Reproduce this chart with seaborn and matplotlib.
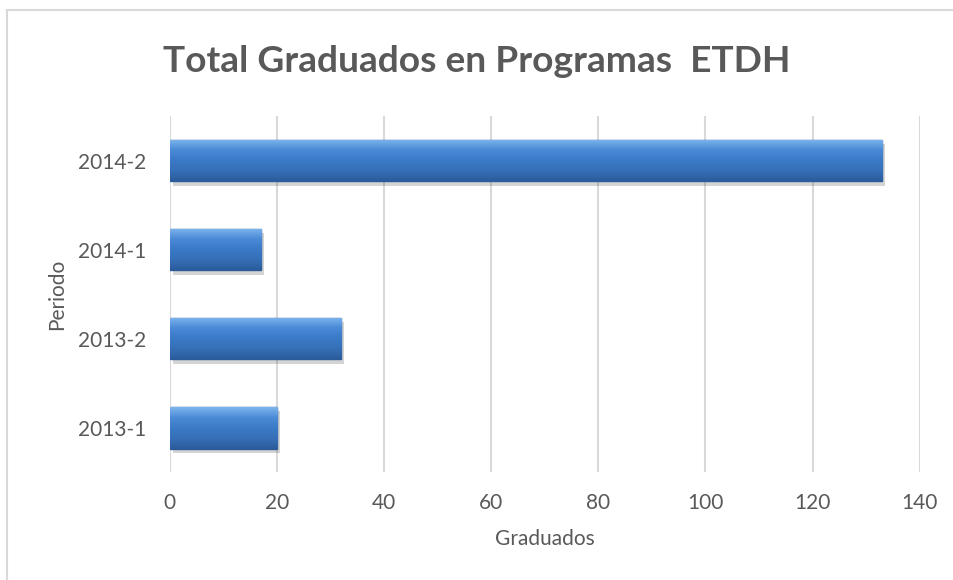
import matplotlib
matplotlib.use("Agg")
import matplotlib.pyplot as plt
import matplotlib.patheffects as pe
from matplotlib.colors import LinearSegmentedColormap
import numpy as np
import seaborn as sns
import pandas as pd

# data
periodos = ["2014-2", "2014-1", "2013-2", "2013-1"]
graduados = [133, 17, 32, 20]

df = pd.DataFrame({"Periodo": periodos, "Graduados": graduados})

sns.set_theme(style="white")
plt.rcParams["font.family"] = ["Lato", "DejaVu Sans"]

fig = plt.figure(figsize=(9.54, 5.8), dpi=100)
ax = fig.add_axes([0.178, 0.186, 0.786, 0.614])

sns.barplot(data=df, y="Periodo", x="Graduados", order=periodos, orient="h",
            color="#3B7AC6", width=0.47, saturation=1, ax=ax,
            edgecolor="#2A5A98", linewidth=1.0)

ax.set_xlim(0, 140)
ax.set_ylim(3.5, -0.5)

# bevel-like vertical gradient + soft shadow on each bar
grad = LinearSegmentedColormap.from_list("bev", ["#7DB4EE", "#4A8AD6", "#3B7AC6", "#3670B8", "#2B5C9C"])
for p in list(ax.patches):
    p.set_path_effects([pe.SimplePatchShadow(offset=(2, -3), alpha=0.25, shadow_rgbFace="#555555"), pe.Normal()])
    x0, y0 = p.get_x(), p.get_y()
    w, h = p.get_width(), p.get_height()
    img = ax.imshow(np.linspace(0, 1, 64).reshape(-1, 1), cmap=grad, aspect="auto",
                    extent=(x0, x0 + w, y0 + h, y0), origin="upper", zorder=p.get_zorder() + 0.1)
    img.set_clip_path(p)
ax.set_xlim(0, 140)
ax.set_ylim(3.5, -0.5)

ax.set_xticks(range(0, 141, 20))
ax.xaxis.grid(True, color="#D9D9D9", linewidth=1.5)
ax.set_axisbelow(True)
for s in ax.spines.values():
    s.set_visible(False)
ax.tick_params(axis="both", length=0, labelsize=15, labelcolor="#595959")
ax.tick_params(axis="x", pad=15)
ax.tick_params(axis="y", pad=17)

ax.set_xlabel("Graduados", fontsize=15, color="#595959")
ax.xaxis.set_label_coords(0.5, -0.16)
ax.set_ylabel("Periodo", fontsize=15, color="#595959")
ax.yaxis.set_label_coords(-0.137, 0.5)

fig.suptitle("Total Graduados en Programas  ETDH", x=0.5, y=0.876, va="baseline",
             fontsize=26.7, fontweight="bold", color="#595959")

# light border of the chart area (right and bottom edges fall outside the image)
fig.patches.append(plt.Rectangle((0.0073, -0.05), 1.2, 1.033, transform=fig.transFigure,
                                 fill=False, edgecolor="#D9D9D9", linewidth=1.5))

fig.savefig("out.png", dpi=100)
